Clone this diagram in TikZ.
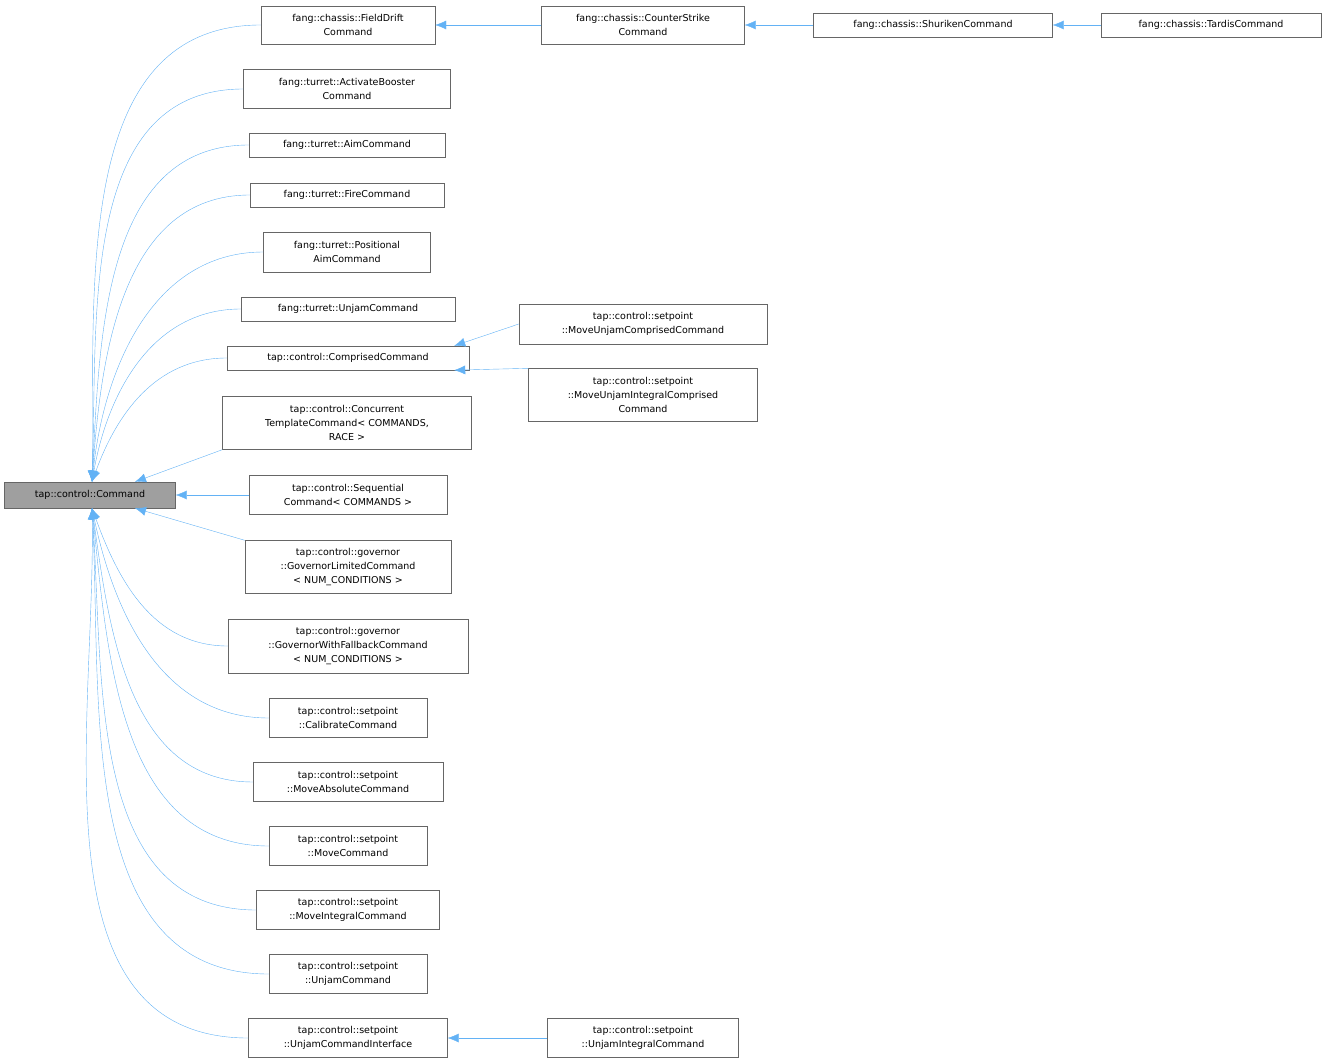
\documentclass[tikz,border=0pt]{standalone}
\usepackage{fontspec}
\setmainfont{DejaVu Sans}
\usetikzlibrary{arrows.meta}
\definecolor{edgeblue}{HTML}{63B2F5}
\definecolor{boxline}{HTML}{666666}
\tikzset{
  cls/.style={draw=boxline, fill=white, align=center, inner sep=1pt,
    font=\fontsize{9.5}{14}\selectfont},
  base/.style={cls, fill=gray!75},
  inh/.style={draw=edgeblue, {Latex[length=11pt,width=9pt]}-}
}
\begin{document}
\begin{tikzpicture}[x=1pt,y=-1pt]
\useasboundingbox (0,0) rectangle (1327,1064);

% -- base class
\node[base, minimum width=171, minimum height=26] (cmd) at (90,495) {tap::control::Command};

% -- direct children
\node[cls, minimum width=174, minimum height=38] (fd) at (348,25) {fang::chassis::FieldDrift\\Command};
\node[cls, minimum width=207, minimum height=39] (ab) at (347,89) {fang::turret::ActivateBooster\\Command};
\node[cls, minimum width=196, minimum height=24] (aim) at (347,145) {fang::turret::AimCommand};
\node[cls, minimum width=194, minimum height=24] (fire) at (347,195) {fang::turret::FireCommand};
\node[cls, minimum width=167, minimum height=40] (pos) at (347,252) {fang::turret::Positional\\AimCommand};
\node[cls, minimum width=214, minimum height=24] (tuj) at (348,309) {fang::turret::UnjamCommand};
\node[cls, minimum width=242, minimum height=24] (comp) at (348,358) {tap::control::ComprisedCommand};
\node[cls, minimum width=249, minimum height=53] (conc) at (347,423) {tap::control::Concurrent\\TemplateCommand< COMMANDS,\\RACE >};
\node[cls, minimum width=198, minimum height=39] (seq) at (348,495) {tap::control::Sequential\\Command< COMMANDS >};
\node[cls, minimum width=206, minimum height=53] (gl) at (348,567) {tap::control::governor\\::GovernorLimitedCommand\\< NUM\_CONDITIONS >};
\node[cls, minimum width=240, minimum height=54] (gf) at (348,646) {tap::control::governor\\::GovernorWithFallbackCommand\\< NUM\_CONDITIONS >};
\node[cls, minimum width=158, minimum height=39] (cal) at (348,718) {tap::control::setpoint\\::CalibrateCommand};
\node[cls, minimum width=190, minimum height=39] (mabs) at (348,782) {tap::control::setpoint\\::MoveAbsoluteCommand};
\node[cls, minimum width=158, minimum height=39] (mv) at (348,846) {tap::control::setpoint\\::MoveCommand};
\node[cls, minimum width=183, minimum height=39] (mint) at (348,910) {tap::control::setpoint\\::MoveIntegralCommand};
\node[cls, minimum width=158, minimum height=39] (uj) at (348,974) {tap::control::setpoint\\::UnjamCommand};
\node[cls, minimum width=199, minimum height=39] (uji) at (348,1038) {tap::control::setpoint\\::UnjamCommandInterface};

% -- deeper classes
\node[cls, minimum width=203, minimum height=38] (cs) at (643,25) {fang::chassis::CounterStrike\\Command};
\node[cls, minimum width=239, minimum height=24] (sh) at (933,25) {fang::chassis::ShurikenCommand};
\node[cls, minimum width=220, minimum height=24] (td) at (1211,25) {fang::chassis::TardisCommand};
\node[cls, minimum width=248, minimum height=40] (muc) at (643,324) {tap::control::setpoint\\::MoveUnjamComprisedCommand};
\node[cls, minimum width=229, minimum height=53] (muic) at (643,395) {tap::control::setpoint\\::MoveUnjamIntegralComprised\\Command};
\node[cls, minimum width=191, minimum height=39] (ujic) at (643,1038) {tap::control::setpoint\\::UnjamIntegralCommand};

% -- arrows above
\foreach \c/\a in {fd/89, ab/88, aim/87, fire/86, pos/84, tuj/80, comp/70}
  \draw[inh] ([xshift=2]cmd.north) to[out=\a,in=180] (\c.west);
\draw[inh] ([xshift=45]cmd.north) -- (conc.south west);
\draw[inh] (cmd.east) -- (seq.west);
\draw[inh] ([xshift=45]cmd.south) -- (gl.north west);
% -- arrows below
\foreach \c/\a in {gf/-70, cal/-78, mabs/-82, mv/-84, mint/-86, uj/-87, uji/-89}
  \draw[inh] ([xshift=2]cmd.south) to[out=\a,in=180] (\c.west);

% -- other arrows
\draw[inh] (fd) -- (cs);
\draw[inh] (cs) -- (sh);
\draw[inh] (sh) -- (td);
\draw[inh] ([xshift=-15]comp.north east) -- (muc.west);
\draw[inh] ([xshift=-15]comp.south east) -- (muic.north west);
\draw[inh] (uji) -- (ujic);
\end{tikzpicture}
\end{document}
